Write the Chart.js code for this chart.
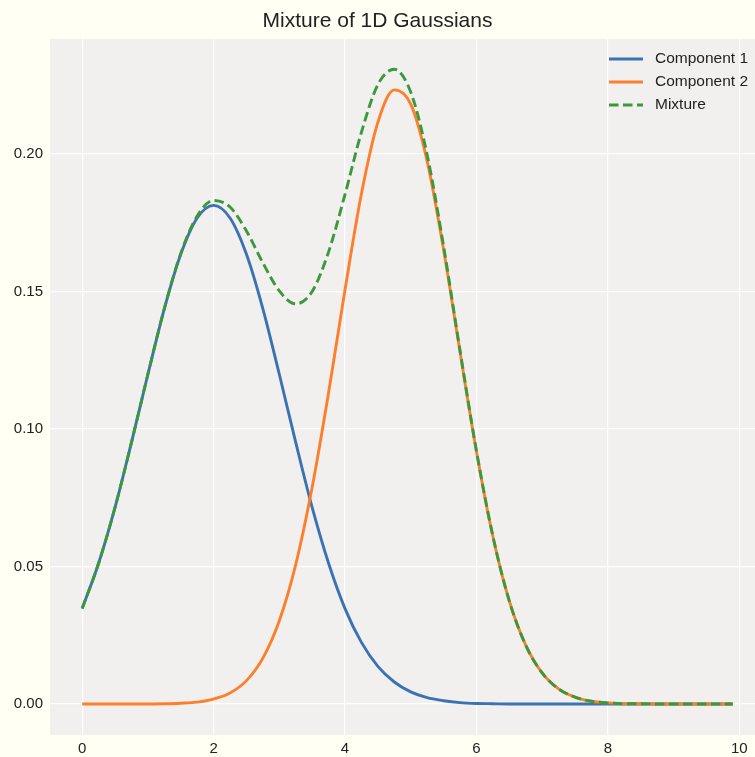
<!DOCTYPE html>
<html>
<head>
<meta charset="utf-8">
<script src="https://cdn.jsdelivr.net/npm/chart.js@4.4.1/dist/chart.umd.min.js"></script>
<style>
  html, body { margin: 0; padding: 0; background: #fffff4; }
  #wrap { width: 755px; height: 757px; }
</style>
</head>
<body>
<div id="wrap"><canvas id="chart" width="755" height="757"></canvas></div>
<script>
// x positions
const xs = [0, 0.25, 0.5, 0.75, 1, 1.25, 1.5, 1.75, 2, 2.25, 2.5, 2.75, 3, 3.25, 3.5, 3.75,
  4, 4.25, 4.5, 4.75, 5, 5.25, 5.5, 5.75, 6, 6.25, 6.5, 6.75, 7, 7.25, 7.5, 7.75,
  8, 8.25, 8.5, 8.75, 9, 9.25, 9.5, 9.75, 9.9];

const component1 = [0.0347, 0.0512, 0.0715, 0.0951, 0.1199, 0.1437, 0.1635, 0.1767, 0.1813, 0.1767,
  0.1635, 0.1437, 0.1199, 0.0951, 0.0715, 0.0512, 0.0347, 0.0224, 0.0137, 0.0080,
  0.0044, 0.0023, 0.0012, 0.0005, 0.0002, 0.0001, 0, 0, 0, 0, 0, 0, 0, 0, 0, 0, 0, 0, 0, 0, 0];

const component2 = [0, 0, 0, 0, 0, 0.0001, 0.0003, 0.0007, 0.0018, 0.0040,
  0.0085, 0.0167, 0.0303, 0.0507, 0.0788, 0.1132, 0.1506, 0.1855, 0.2115, 0.2233,
  0.2181, 0.1974, 0.1653, 0.1281, 0.0919, 0.0610, 0.0375, 0.0214, 0.0113, 0.0055,
  0.0025, 0.0010, 0.0004, 0.0001, 0.0001, 0, 0, 0, 0, 0, 0];

const mixture = [0.0347, 0.0512, 0.0715, 0.0951, 0.1199, 0.1438, 0.1638, 0.1774, 0.1831, 0.1807,
  0.1720, 0.1604, 0.1502, 0.1455, 0.1500, 0.1644, 0.1853, 0.2079, 0.2252, 0.2308,
  0.2225, 0.1997, 0.1665, 0.1286, 0.0921, 0.0611, 0.0375, 0.0214, 0.0113, 0.0055,
  0.0025, 0.0010, 0.0004, 0.0001, 0.0001, 0, 0, 0, 0, 0, 0];

const xTicks = [0, 2, 4, 6, 8, 10];
const yTicks = [0, 0.05, 0.10, 0.15, 0.20];

const FONT = "'Liberation Sans', Arial, sans-serif";

function pts(ys) {
  return xs.map((x, i) => ({ x: x, y: ys[i] }));
}

// backgrounds: figure + axes face
const bgPlugin = {
  id: "bg",
  beforeDraw(chart) {
    const { ctx, chartArea: a } = chart;
    ctx.save();
    ctx.fillStyle = "#fffff4";
    ctx.fillRect(0, 0, chart.width, chart.height);
    ctx.fillStyle = "#f2efef";
    ctx.fillRect(a.left, a.top, a.right - a.left, a.bottom - a.top);
    ctx.restore();
  }
};

// matplotlib-like legend inside the upper right corner
const legendPlugin = {
  id: "mplLegend",
  afterDraw(chart) {
    const { ctx, chartArea: a } = chart;
    ctx.save();
    ctx.font = "15.5px " + FONT;
    ctx.textBaseline = "middle";
    chart.data.datasets.forEach((ds, i) => {
      const y = a.top + 20 + i * 23;
      const x0 = a.right - 146;
      ctx.strokeStyle = ds.borderColor;
      ctx.lineWidth = ds.borderWidth;
      ctx.setLineDash(ds.borderDash || []);
      ctx.beginPath();
      ctx.moveTo(x0, y);
      ctx.lineTo(x0 + 34, y);
      ctx.stroke();
      ctx.setLineDash([]);
      ctx.fillStyle = "#222";
      ctx.fillText(ds.label, x0 + 46, y);
    });
    ctx.restore();
  }
};

new Chart(document.getElementById("chart"), {
  type: "line",
  data: {
    datasets: [
      { label: "Component 1", data: pts(component1), borderColor: "#3b73b2", borderWidth: 2.9, order: 3 },
      { label: "Component 2", data: pts(component2), borderColor: "#fd7f2c", borderWidth: 2.9, order: 2 },
      { label: "Mixture", data: pts(mixture), borderColor: "#3b983b", borderWidth: 2.9, borderDash: [9.5, 4.5], order: 1 }
    ]
  },
  options: {
    responsive: false,
    animation: false,
    elements: {
      point: { radius: 0 },
      line: { cubicInterpolationMode: "monotone", fill: false }
    },
    layout: { padding: 0 },
    scales: {
      x: {
        type: "linear",
        min: -0.49,
        max: 10.24,
        border: { display: false },
        grid: { color: "#ffffff", lineWidth: 1.2, drawTicks: false },
        ticks: { font: { family: FONT, size: 15 }, color: "#222", padding: 5, maxRotation: 0 },
        afterBuildTicks(scale) { scale.ticks = xTicks.map(v => ({ value: v })); },
        afterFit(scale) { scale.height = 22; }
      },
      y: {
        min: -0.01127,
        max: 0.2418,
        border: { display: false },
        grid: { color: "#ffffff", lineWidth: 1.2, drawTicks: false },
        ticks: {
          font: { family: FONT, size: 15 }, color: "#222", padding: 7,
          callback: v => v.toFixed(2)
        },
        afterBuildTicks(scale) { scale.ticks = yTicks.map(v => ({ value: v })); },
        afterFit(scale) { scale.width = 50; }
      }
    },
    plugins: {
      legend: { display: false },
      tooltip: { enabled: false },
      title: {
        display: true,
        text: "Mixture of 1D Gaussians",
        font: { family: FONT, size: 21, weight: "normal" },
        color: "#222",
        padding: { top: 8.5, bottom: 5.3 }
      }
    }
  },
  plugins: [bgPlugin, legendPlugin]
});
</script>
</body>
</html>
